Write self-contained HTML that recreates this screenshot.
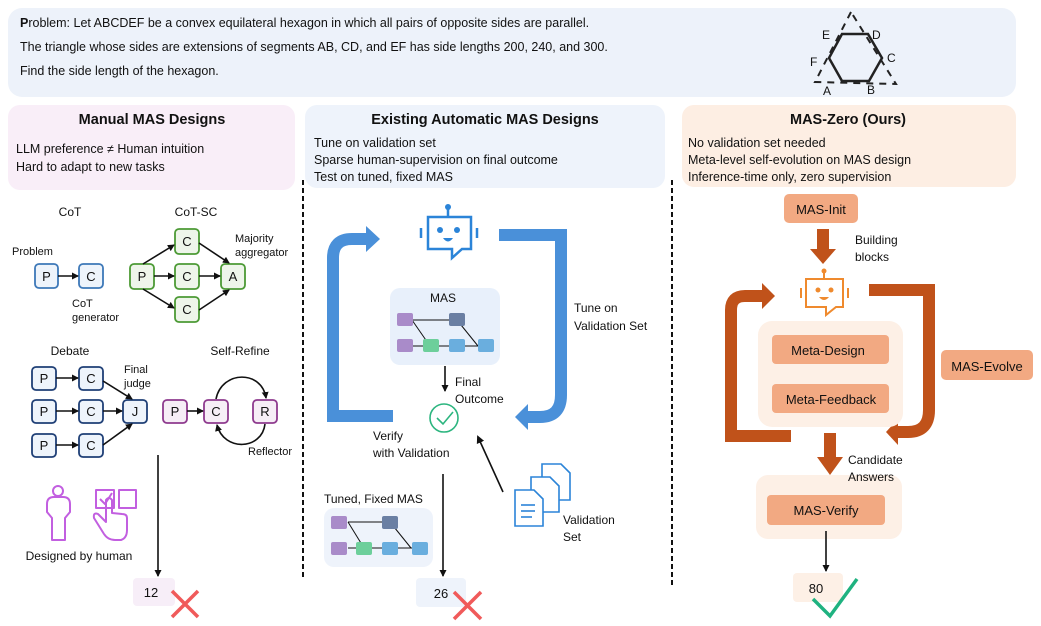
<!DOCTYPE html>
<html><head><meta charset="utf-8"><style>
html,body{margin:0;padding:0;background:#fff}
svg{display:block}
text{font-family:"Liberation Sans",Arial,sans-serif;fill:#111}
</style></head><body>
<svg width="1041" height="626" viewBox="0 0 1041 626" xmlns="http://www.w3.org/2000/svg">
<defs>
<marker id="ah" markerWidth="8" markerHeight="8" refX="6" refY="4" orient="auto" markerUnits="userSpaceOnUse"><path d="M0,0 L8,4 L0,8 z" fill="#111"/></marker>
<marker id="ahs" markerWidth="7" markerHeight="7" refX="6" refY="3.5" orient="auto" markerUnits="userSpaceOnUse"><path d="M0,0 L7,3.5 L0,7 z" fill="#111"/></marker>
</defs>

<rect x="8" y="8" width="1008" height="89" rx="14" fill="#edf2fa"/>
<text x="20" y="27" font-size="12.5"><tspan font-weight="bold">P</tspan>roblem: Let ABCDEF be a convex equilateral hexagon in which all pairs of opposite sides are parallel.</text>
<text x="20" y="51" font-size="12.5">The triangle whose sides are extensions of segments AB, CD, and EF has side lengths 200, 240, and 300.</text>
<text x="20" y="75" font-size="12.5">Find the side length of the hexagon.</text>
<g stroke="#222" fill="none">
<path d="M851,12 L815,82 L896,84 Z" stroke-width="2" stroke-dasharray="7,6"/>
<path d="M842,34 L868,34 L882,58 L869,81 L842,81 L829,58 Z" stroke-width="2.5"/>
</g>
<g font-size="12">
<text x="822" y="39">E</text><text x="872" y="39">D</text><text x="810" y="66">F</text><text x="887" y="62">C</text><text x="823" y="95">A</text><text x="867" y="94">B</text>
</g>

<rect x="8" y="105" width="287" height="85" rx="12" fill="#f9eef8"/>
<text x="152" y="124" font-size="14.5" font-weight="bold" text-anchor="middle">Manual MAS Designs</text>
<text x="16" y="153" font-size="12.5">LLM preference ≠ Human intuition</text>
<text x="16" y="171" font-size="12.5">Hard to adapt to new tasks</text>

<rect x="305" y="105" width="360" height="83" rx="12" fill="#eef3fb"/>
<text x="485" y="124" font-size="14.5" font-weight="bold" text-anchor="middle">Existing Automatic MAS Designs</text>
<text x="314" y="147" font-size="12.5">Tune on validation set</text>
<text x="314" y="164" font-size="12.5">Sparse human-supervision on final outcome</text>
<text x="314" y="181" font-size="12.5">Test on tuned, fixed MAS</text>

<rect x="682" y="105" width="334" height="82" rx="12" fill="#fdeee3"/>
<text x="848" y="124" font-size="14.5" font-weight="bold" text-anchor="middle">MAS-Zero (Ours)</text>
<text x="688" y="147" font-size="12.5">No validation set needed</text>
<text x="688" y="164" font-size="12.5">Meta-level self-evolution on MAS design</text>
<text x="688" y="181" font-size="12.5">Inference-time only, zero supervision</text>

<line x1="303" y1="180" x2="303" y2="578" stroke="#111" stroke-width="2" stroke-dasharray="5,3"/>
<line x1="672" y1="180" x2="672" y2="586" stroke="#111" stroke-width="2" stroke-dasharray="5,3"/>

<g font-size="12">
<text x="70" y="216" text-anchor="middle">CoT</text>
<text x="196" y="216" text-anchor="middle">CoT-SC</text>
<text x="12" y="255" font-size="11">Problem</text>
<text x="72" y="307" font-size="11">CoT</text>
<text x="72" y="321" font-size="11">generator</text>
<text x="235" y="242" font-size="11">Majority</text>
<text x="235" y="256" font-size="11">aggregator</text>
</g>
<g stroke-width="1.8">
<rect x="35" y="264" width="23" height="24" rx="4" fill="#eef4fb" stroke="#3d78b8"/>
<rect x="79" y="264" width="24" height="24" rx="4" fill="#eef4fb" stroke="#3d78b8"/>
<rect x="130" y="264" width="24" height="25" rx="4" fill="#eef5ea" stroke="#4c9a35"/>
<rect x="175" y="229" width="24" height="25" rx="4" fill="#eef5ea" stroke="#4c9a35"/>
<rect x="175" y="264" width="24" height="25" rx="4" fill="#eef5ea" stroke="#4c9a35"/>
<rect x="175" y="297" width="24" height="25" rx="4" fill="#eef5ea" stroke="#4c9a35"/>
<rect x="221" y="264" width="24" height="25" rx="4" fill="#eef5ea" stroke="#4c9a35"/>
</g>
<g stroke="#111" stroke-width="1.6" fill="none">
<line x1="58" y1="276" x2="78" y2="276" marker-end="url(#ahs)"/>
<line x1="154" y1="276" x2="174" y2="276" marker-end="url(#ahs)"/>
<line x1="143" y1="264" x2="174" y2="245" marker-end="url(#ahs)"/>
<line x1="143" y1="289" x2="174" y2="308" marker-end="url(#ahs)"/>
<line x1="199" y1="276" x2="220" y2="276" marker-end="url(#ahs)"/>
<line x1="199" y1="243" x2="229" y2="263" marker-end="url(#ahs)"/>
<line x1="199" y1="310" x2="229" y2="290" marker-end="url(#ahs)"/>
</g>
<g font-size="13" text-anchor="middle">
<text x="46.5" y="281">P</text><text x="91" y="281">C</text>
<text x="142" y="281">P</text><text x="187" y="246">C</text><text x="187" y="281">C</text><text x="187" y="314">C</text><text x="233" y="281">A</text>
</g>

<text x="70" y="355" font-size="12" text-anchor="middle">Debate</text>
<text x="240" y="355" font-size="12" text-anchor="middle">Self-Refine</text>
<text x="124" y="373" font-size="11">Final</text>
<text x="124" y="387" font-size="11">judge</text>
<text x="248" y="455" font-size="11">Reflector</text>
<g stroke-width="1.8" fill="#eef4fb" stroke="#1f3f76">
<rect x="32" y="367" width="24" height="23" rx="4"/><rect x="79" y="367" width="24" height="23" rx="4"/>
<rect x="32" y="400" width="24" height="23" rx="4"/><rect x="79" y="400" width="24" height="23" rx="4"/>
<rect x="32" y="434" width="24" height="23" rx="4"/><rect x="79" y="434" width="24" height="23" rx="4"/>
<rect x="123" y="400" width="24" height="23" rx="4"/>
</g>
<g stroke-width="1.8" fill="#f6eef6" stroke="#8e3a8e">
<rect x="163" y="400" width="24" height="23" rx="4"/><rect x="204" y="400" width="24" height="23" rx="4"/><rect x="253" y="400" width="24" height="23" rx="4"/>
</g>
<g stroke="#111" stroke-width="1.6" fill="none">
<line x1="56" y1="378" x2="78" y2="378" marker-end="url(#ahs)"/>
<line x1="56" y1="411" x2="78" y2="411" marker-end="url(#ahs)"/>
<line x1="56" y1="445" x2="78" y2="445" marker-end="url(#ahs)"/>
<line x1="103" y1="411" x2="122" y2="411" marker-end="url(#ahs)"/>
<line x1="103" y1="381" x2="132" y2="399" marker-end="url(#ahs)"/>
<line x1="103" y1="445" x2="132" y2="424" marker-end="url(#ahs)"/>
<line x1="187" y1="411" x2="203" y2="411" marker-end="url(#ahs)"/>
<path d="M216,399 C222,370 262,370 266,398" marker-end="url(#ahs)"/>
<path d="M265,424 C262,450 224,452 217,425" marker-end="url(#ahs)"/>
</g>
<g font-size="13" text-anchor="middle">
<text x="44" y="383">P</text><text x="91" y="383">C</text>
<text x="44" y="416">P</text><text x="91" y="416">C</text>
<text x="44" y="450">P</text><text x="91" y="450">C</text>
<text x="135" y="416">J</text>
<text x="175" y="416">P</text><text x="216" y="416">C</text><text x="265" y="416">R</text>
</g>

<g stroke="#c25fe0" stroke-width="2" fill="none" stroke-linejoin="round">
<circle cx="58" cy="491" r="5"/>
<path d="M52,540 L52,518 L47,512 L47,504 Q47,497 54,497 L63,497 Q70,497 70,504 L70,512 L65,518 L65,540 Z"/>
<rect x="96" y="490" width="18" height="18"/>
<rect x="119" y="490" width="17" height="18"/>
<path d="M100,499 L105,504 L112,493"/>
<path d="M106,500 L106,522 L98,514 Q93,512 94,518 L104,534 Q108,540 115,540 L121,540 Q127,538 127,530 L127,518 Q127,514 122,514 L112,513 L112,500 Q109,496 106,500 Z"/>
</g>
<text x="79" y="560" font-size="12" text-anchor="middle">Designed by human</text>
<line x1="158" y1="455" x2="158" y2="576" stroke="#111" stroke-width="1.6" marker-end="url(#ahs)"/>
<rect x="133" y="578" width="42" height="28" rx="4" fill="#f7eef8"/>
<text x="151" y="597" font-size="13" text-anchor="middle">12</text>
<g stroke="#f05a5a" stroke-width="3.5"><line x1="172" y1="591" x2="198" y2="617"/><line x1="198" y1="591" x2="172" y2="617"/></g>

<g fill="none" stroke="#4a90d9" stroke-width="12">
<path d="M393,416 L333,416 L333,258 Q333,239 352,239 L366,239"/>
<path d="M499,235 L561,235 L561,395 Q561,417 540,417 L528,417"/>
</g>
<path d="M366,226 L380,239 L366,252 Z" fill="#4a90d9"/>
<path d="M528,404 L515,417 L528,430 Z" fill="#4a90d9"/>
<g stroke="#2b84d8" stroke-width="2.5" fill="none">
<path d="M428,217 L471,217 L471,249 L462,249 L452,258 L452,249 L428,249 Z"/>
<line x1="448" y1="208" x2="448" y2="217"/>
<line x1="421" y1="228" x2="421" y2="238"/><line x1="477" y1="228" x2="477" y2="238"/>
</g>
<g fill="#2b84d8"><circle cx="448" cy="207" r="3"/><circle cx="440" cy="230" r="3"/><circle cx="457" cy="230" r="3"/><path d="M443,238 Q448,245 453,238 Z"/></g>
<text x="574" y="312" font-size="12">Tune on</text>
<text x="574" y="330" font-size="12">Validation Set</text>
<rect x="390" y="288" width="110" height="77" rx="10" fill="#e8f0fb"/>
<text x="443" y="302" font-size="12" text-anchor="middle">MAS</text>
<g stroke="#111" stroke-width="1">
<line x1="412" y1="320" x2="457" y2="320"/><line x1="412" y1="320" x2="430" y2="346"/><line x1="457" y1="320" x2="478" y2="346"/>
<line x1="412" y1="346" x2="487" y2="346"/>
</g>
<g>
<rect x="397" y="313" width="16" height="13" rx="2" fill="#a98bc9"/><rect x="449" y="313" width="16" height="13" rx="2" fill="#6a7fa3"/>
<rect x="397" y="339" width="16" height="13" rx="2" fill="#a98bc9"/><rect x="423" y="339" width="16" height="13" rx="2" fill="#6dcf9b"/>
<rect x="449" y="339" width="16" height="13" rx="2" fill="#6aaede"/><rect x="478" y="339" width="16" height="13" rx="2" fill="#6aaede"/>
</g>
<line x1="445" y1="366" x2="445" y2="391" stroke="#111" stroke-width="1.6" marker-end="url(#ahs)"/>
<text x="455" y="386" font-size="12">Final</text>
<text x="455" y="403" font-size="12">Outcome</text>
<circle cx="444" cy="418" r="14" fill="none" stroke="#2cb57f" stroke-width="1.6"/>
<path d="M437,418 L443,424 L453,412" fill="none" stroke="#2cb57f" stroke-width="1.6"/>
<text x="373" y="440" font-size="12">Verify</text>
<text x="373" y="457" font-size="12">with Validation</text>
<line x1="503" y1="492" x2="478" y2="437" stroke="#111" stroke-width="1.6" marker-end="url(#ah)"/>
<g stroke="#2b84d8" stroke-width="1.6" fill="#fff">
<path d="M542,464 L561,464 L570,473 L570,500 L542,500 Z"/>
<path d="M531,477 L550,477 L559,486 L559,512 L531,512 Z"/>
<path d="M515,490 L534,490 L543,499 L543,526 L515,526 Z"/>
<line x1="521" y1="505" x2="535" y2="505"/><line x1="521" y1="511" x2="535" y2="511"/><line x1="521" y1="517" x2="532" y2="517"/>
</g>
<text x="563" y="524" font-size="12">Validation</text>
<text x="563" y="541" font-size="12">Set</text>
<line x1="443" y1="474" x2="443" y2="576" stroke="#111" stroke-width="1.6" marker-end="url(#ahs)"/>
<text x="324" y="503" font-size="12">Tuned, Fixed MAS</text>
<rect x="324" y="508" width="109" height="59" rx="10" fill="#eef3fb"/>
<g stroke="#111" stroke-width="1">
<line x1="348" y1="522" x2="390" y2="522"/><line x1="348" y1="522" x2="364" y2="548"/><line x1="390" y1="522" x2="411" y2="548"/>
<line x1="348" y1="548" x2="420" y2="548"/>
</g>
<rect x="331" y="516" width="16" height="13" rx="2" fill="#a98bc9"/><rect x="382" y="516" width="16" height="13" rx="2" fill="#6a7fa3"/>
<rect x="331" y="542" width="16" height="13" rx="2" fill="#a98bc9"/><rect x="356" y="542" width="16" height="13" rx="2" fill="#6dcf9b"/>
<rect x="382" y="542" width="16" height="13" rx="2" fill="#6aaede"/><rect x="412" y="542" width="16" height="13" rx="2" fill="#6aaede"/>
<rect x="416" y="578" width="50" height="29" rx="4" fill="#eef3fb"/>
<text x="441" y="598" font-size="13" text-anchor="middle">26</text>
<g stroke="#f05a5a" stroke-width="3.5"><line x1="454" y1="592" x2="481" y2="619"/><line x1="481" y1="592" x2="454" y2="619"/></g>

<rect x="784" y="194" width="74" height="29" rx="5" fill="#f2a982"/>
<text x="821" y="214" font-size="13" text-anchor="middle">MAS-Init</text>
<rect x="817" y="229" width="12" height="20" fill="#c0521a"/>
<path d="M810,249 L836,249 L823,264 Z" fill="#c0521a"/>
<text x="855" y="244" font-size="12">Building</text>
<text x="855" y="261" font-size="12">blocks</text>
<g fill="none" stroke="#c0521a" stroke-width="12">
<path d="M791,436 L731,436 L731,310 Q731,296 745,296 L762,296"/>
<path d="M869,290 L929,290 L929,410 Q929,432 908,432 L898,432"/>
</g>
<path d="M762,283 L775,296 L762,309 Z" fill="#c0521a"/>
<path d="M898,419 L886,432 L898,445 Z" fill="#c0521a"/>
<g stroke="#ef8a2e" stroke-width="2" fill="none">
<path d="M806,279 L843,279 L843,307 L836,307 L826,315 L826,307 L806,307 Z"/>
<line x1="824" y1="272" x2="824" y2="279"/>
<line x1="801" y1="288" x2="801" y2="298"/><line x1="848" y1="288" x2="848" y2="298"/>
</g>
<g fill="#ef8a2e"><circle cx="824" cy="271" r="2.5"/><circle cx="818" cy="290" r="2.5"/><circle cx="831" cy="290" r="2.5"/><path d="M819,297 Q824,303 829,297 Z"/></g>
<rect x="758" y="321" width="145" height="106" rx="14" fill="#fdf0e6"/>
<rect x="772" y="335" width="117" height="29" rx="4" fill="#f2a982"/>
<text x="828" y="355" font-size="13" text-anchor="middle">Meta-Design</text>
<rect x="772" y="384" width="117" height="29" rx="4" fill="#f2a982"/>
<text x="831" y="404" font-size="13" text-anchor="middle">Meta-Feedback</text>
<rect x="941" y="350" width="92" height="30" rx="5" fill="#f2a982"/>
<text x="987" y="371" font-size="13" text-anchor="middle">MAS-Evolve</text>
<rect x="756" y="475" width="146" height="64" rx="12" fill="#fdf0e6"/>
<rect x="824" y="433" width="12" height="25" fill="#c0521a"/>
<path d="M817,457 L843,457 L830,475 Z" fill="#c0521a"/>
<text x="848" y="464" font-size="12">Candidate</text>
<text x="848" y="481" font-size="12">Answers</text>
<rect x="767" y="495" width="118" height="30" rx="4" fill="#f2a982"/>
<text x="826" y="515" font-size="13" text-anchor="middle">MAS-Verify</text>
<line x1="826" y1="531" x2="826" y2="571" stroke="#111" stroke-width="1.6" marker-end="url(#ahs)"/>
<rect x="793" y="573" width="50" height="29" rx="4" fill="#fdf0e6"/>
<text x="816" y="593" font-size="13" text-anchor="middle">80</text>
<path d="M813,599 L830,616 L857,579" fill="none" stroke="#1fb280" stroke-width="3.5"/>
</svg>
</body></html>
